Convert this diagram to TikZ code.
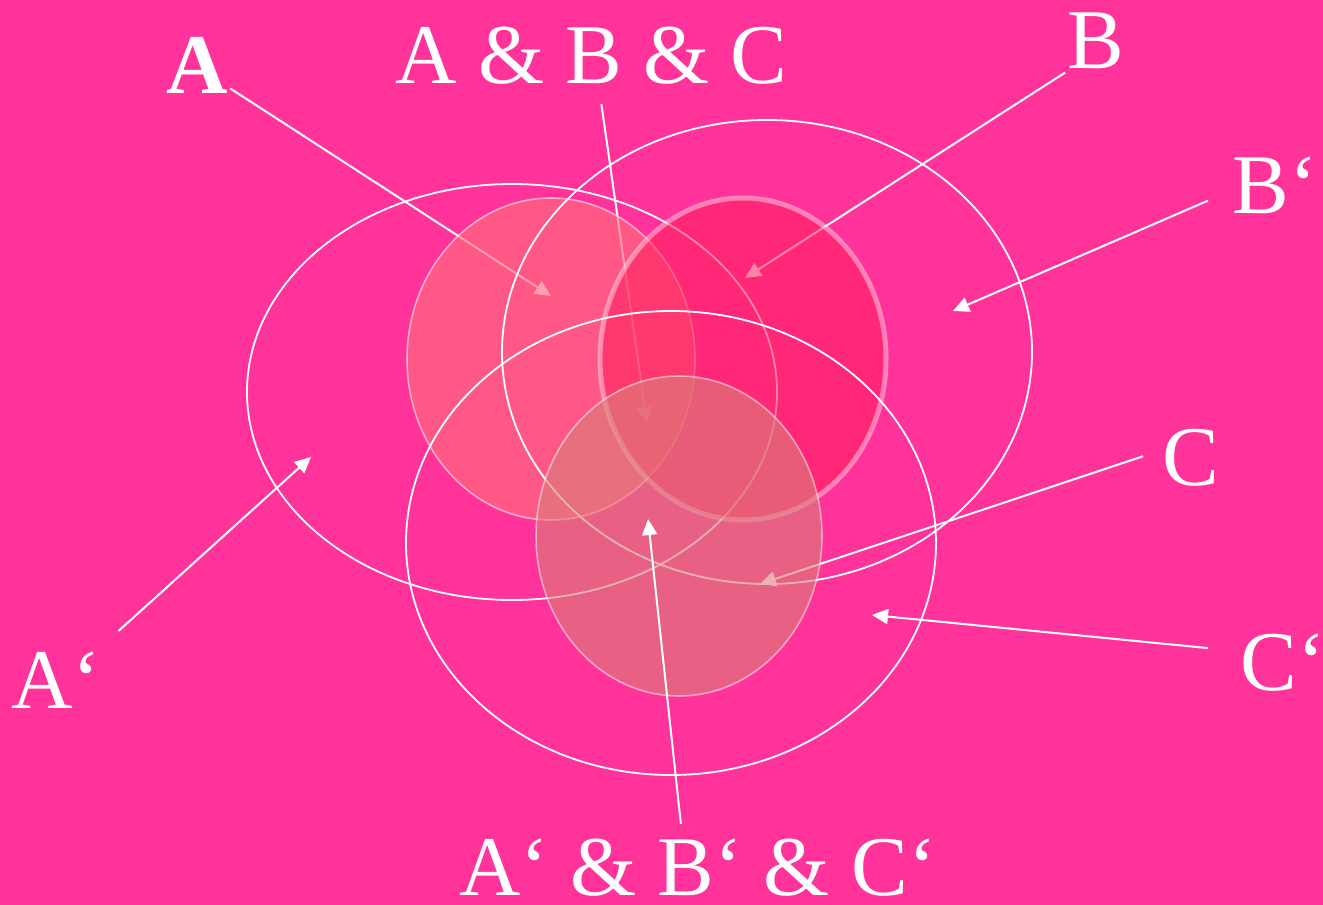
\documentclass[tikz,border=0pt]{standalone}
\usepackage{fontspec}
\setmainfont{Liberation Serif}
\usetikzlibrary{arrows.meta,calc}
\definecolor{bgpink}{RGB}{255,51,153}
\definecolor{colA}{RGB}{255,108,126}
\definecolor{colB}{RGB}{255,30,92}
\definecolor{colC}{RGB}{217,128,120}

\begin{document}
\begin{tikzpicture}[
  x=0.5pt, y=-0.5pt,
  lbl/.style={text=white, font=\fontsize{42.5}{50}\selectfont, inner sep=0pt, anchor=base west},
  ring/.style={draw=white, line width=0.9pt},
  setA/.style={fill=colA, fill opacity=0.65, draw=white, draw opacity=0.55, line width=0.8pt},
  setB/.style={fill=colB, fill opacity=0.55, draw=white, draw opacity=0.4, line width=2.5pt},
  setC/.style={fill=colC, fill opacity=0.6, draw=white, draw opacity=0.5, line width=0.8pt},
  arr/.style={-{Triangle[length=8pt, width=7.5pt]}, draw=white, line width=1pt}]

% background
\fill[bgpink] (0,0) rectangle (1323,905);
\useasboundingbox (0,0) rectangle (1323,905);

% labels
\node[lbl, font=\fontsize{42.5}{50}\selectfont\bfseries] (lA) at (166,93) {A};
\node[lbl] (lABC) at (395,83) {A \& B \& C};
\node[lbl] (lB) at (1067,68) {B};
\node[lbl] (lBp) at (1232,213) {B‘};
\node[lbl] (lC) at (1162,485) {C};
\node[lbl] (lCp) at (1240,690) {C‘};
\node[lbl] (lAp) at (11,708) {A‘};
\node[lbl] (lApBpCp) at (459,895) {A‘ \& B‘ \& C‘};

% arrow tips
\coordinate (tA) at (551,296);
\coordinate (tABC) at (647,423);
\coordinate (tB) at (745,278);
\coordinate (tBp) at (953,311);
\coordinate (tC) at (760,584);
\coordinate (tCp) at (872,615);
\coordinate (tAp) at (311,457);
\coordinate (tApBpCp) at (648,519);

% arrows under the sets
\draw[arr] ($(lA.south east)+(2,-5)$) -- (tA);
\draw[arr] ($(lABC.south)+(10,20)$) -- (tABC);
\draw[arr] ($(lB.south west)+(-2,4)$) -- (tB);
\draw[arr] ($(lC.west)+(-19,-1)$) -- (tC);

% sets
\draw[ring] (512,392) ellipse [x radius=265, y radius=208];
\draw[setA] (551,359) ellipse [x radius=144, y radius=161];
\draw[ring] (767,352) ellipse [x radius=265, y radius=232];
\draw[setB] (743,359) ellipse [x radius=143, y radius=161];
\draw[ring] (671,543) ellipse [x radius=265, y radius=232];
\draw[setC] (679,536) ellipse [x radius=143, y radius=160];

% arrows on top
\draw[arr] ($(lBp.south west)+(-24,-13)$) -- (tBp);
\draw[arr] ($(lCp.west)+(-32,-14)$) -- (tCp);
\draw[arr] ($(lAp.north east)+(17,-20)$) -- (tAp);
\draw[arr] ($(lApBpCp.north)+(-17,-14)$) -- (tApBpCp);
\end{tikzpicture}
\end{document}
